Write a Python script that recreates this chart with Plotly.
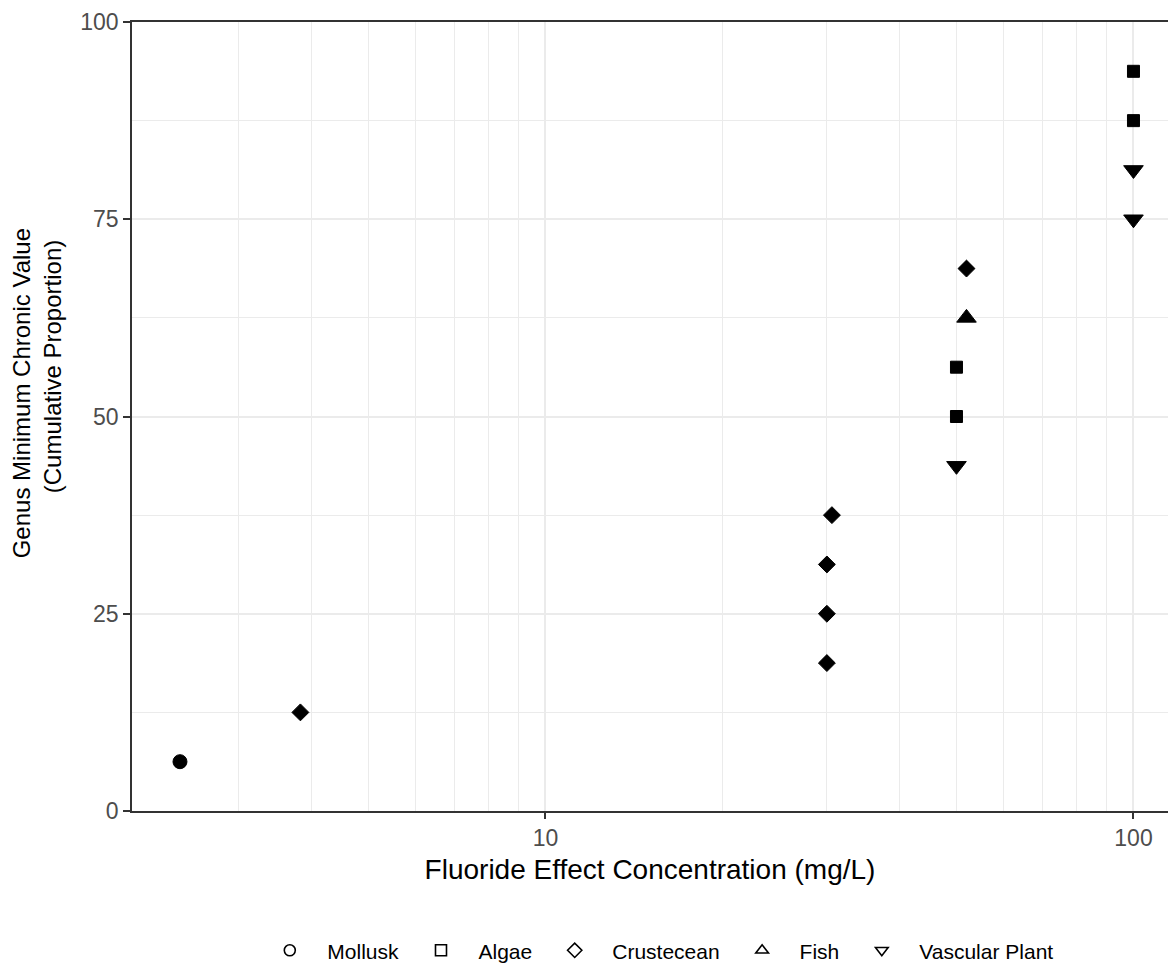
import plotly.graph_objects as go

groups = ["Mollusk", "Algae", "Crustecean", "Fish", "Vascular Plant"]

mollusk_x = [2.39]
mollusk_y = [6.25]
algae_x = [50.0, 50.0, 100.0, 100.0]
algae_y = [50.0, 56.25, 87.5, 93.75]
crust_x = [3.83, 30.1, 30.1, 30.1, 30.7, 52.0]
crust_y = [12.5, 18.75, 25.0, 31.25, 37.5, 68.75]
fish_x = [52.0]
fish_y = [62.5]
vasc_x = [50.0, 100.0, 100.0]
vasc_y = [43.75, 75.0, 81.25]

x_ticks = [10, 100]
x_minor = [3, 4, 5, 6, 7, 8, 9, 20, 30, 40, 50, 60, 70, 80, 90]
y_ticks = [0, 25, 50, 75, 100]
y_minor = [12.5, 37.5, 62.5, 87.5]

series = [
    (groups[0], mollusk_x, mollusk_y, "circle", 14),
    (groups[1], algae_x, algae_y, "square", 12),
    (groups[2], crust_x, crust_y, "diamond", 13),
    (groups[3], fish_x, fish_y, "triangle-up", 17),
    (groups[4], vasc_x, vasc_y, "triangle-down", 17),
]

fig = go.Figure()
for name, xs, ys, sym, sz in series:
    fig.add_trace(go.Scatter(
        x=xs, y=ys, mode="markers", name=name, showlegend=False,
        marker=dict(symbol=sym, size=sz, color="black", line=dict(width=1, color="black")),
    ))
nb = "\u00a0"
for name, xs, ys, sym, sz in series:
    fig.add_trace(go.Scatter(
        x=[None], y=[None], mode="markers", name=nb * 3 + name + nb * 3, showlegend=True,
        marker=dict(symbol=sym + "-open", size=11, color="black", line=dict(width=1.6, color="black")),
    ))

y_title = "\u200b" + nb * 7 + "Genus Minimum Chronic Value" + "<br>" + nb * 15 + "(Cumulative Proportion)"

grid_col = "#ebebeb"
fig.update_layout(
    width=1168, height=965,
    margin=dict(l=132, r=0, t=22, b=154, autoexpand=False),
    plot_bgcolor="white", paper_bgcolor="white",
    font=dict(family="Liberation Sans, Arial, sans-serif", color="black"),
    showlegend=True,
    legend=dict(orientation="h", x=0.522, xanchor="center", y=-0.177, yanchor="middle",
                font=dict(size=21, color="black"), bgcolor="rgba(0,0,0,0)"),
    xaxis=dict(
        type="log", range=[0.2968, 2.0587], tickmode="array", tickvals=x_ticks,
        ticktext=[str(v) for v in x_ticks],
        showgrid=True, gridcolor=grid_col, gridwidth=2,
        minor=dict(tickmode="array", tickvals=x_minor, showgrid=True, gridcolor=grid_col, gridwidth=1, ticks=""),
        showline=True, linecolor="#333333", linewidth=1.5, mirror=True,
        ticks="outside", ticklen=6, tickwidth=1.5, tickcolor="#333333",
        tickfont=dict(size=23, color="#4d4d4d"),
        title=dict(text="Fluoride Effect Concentration (mg/L)", font=dict(size=28, color="black"), standoff=9),
        zeroline=False, automargin=False,
    ),
    yaxis=dict(
        range=[0, 100], tickmode="array", tickvals=y_ticks,
        ticktext=[str(v) for v in y_ticks],
        showgrid=True, gridcolor=grid_col, gridwidth=2,
        minor=dict(tickmode="array", tickvals=y_minor, showgrid=True, gridcolor=grid_col, gridwidth=1, ticks=""),
        showline=True, linecolor="#333333", linewidth=1.5, mirror=False,
        ticks="outside", ticklen=7, tickwidth=1.5, tickcolor="#333333",
        tickfont=dict(size=23, color="#4d4d4d"),
        title=dict(text=y_title, font=dict(size=24, color="black"), standoff=12),
        zeroline=False, automargin=False,
    ),
)

fig.write_html("out.html")
